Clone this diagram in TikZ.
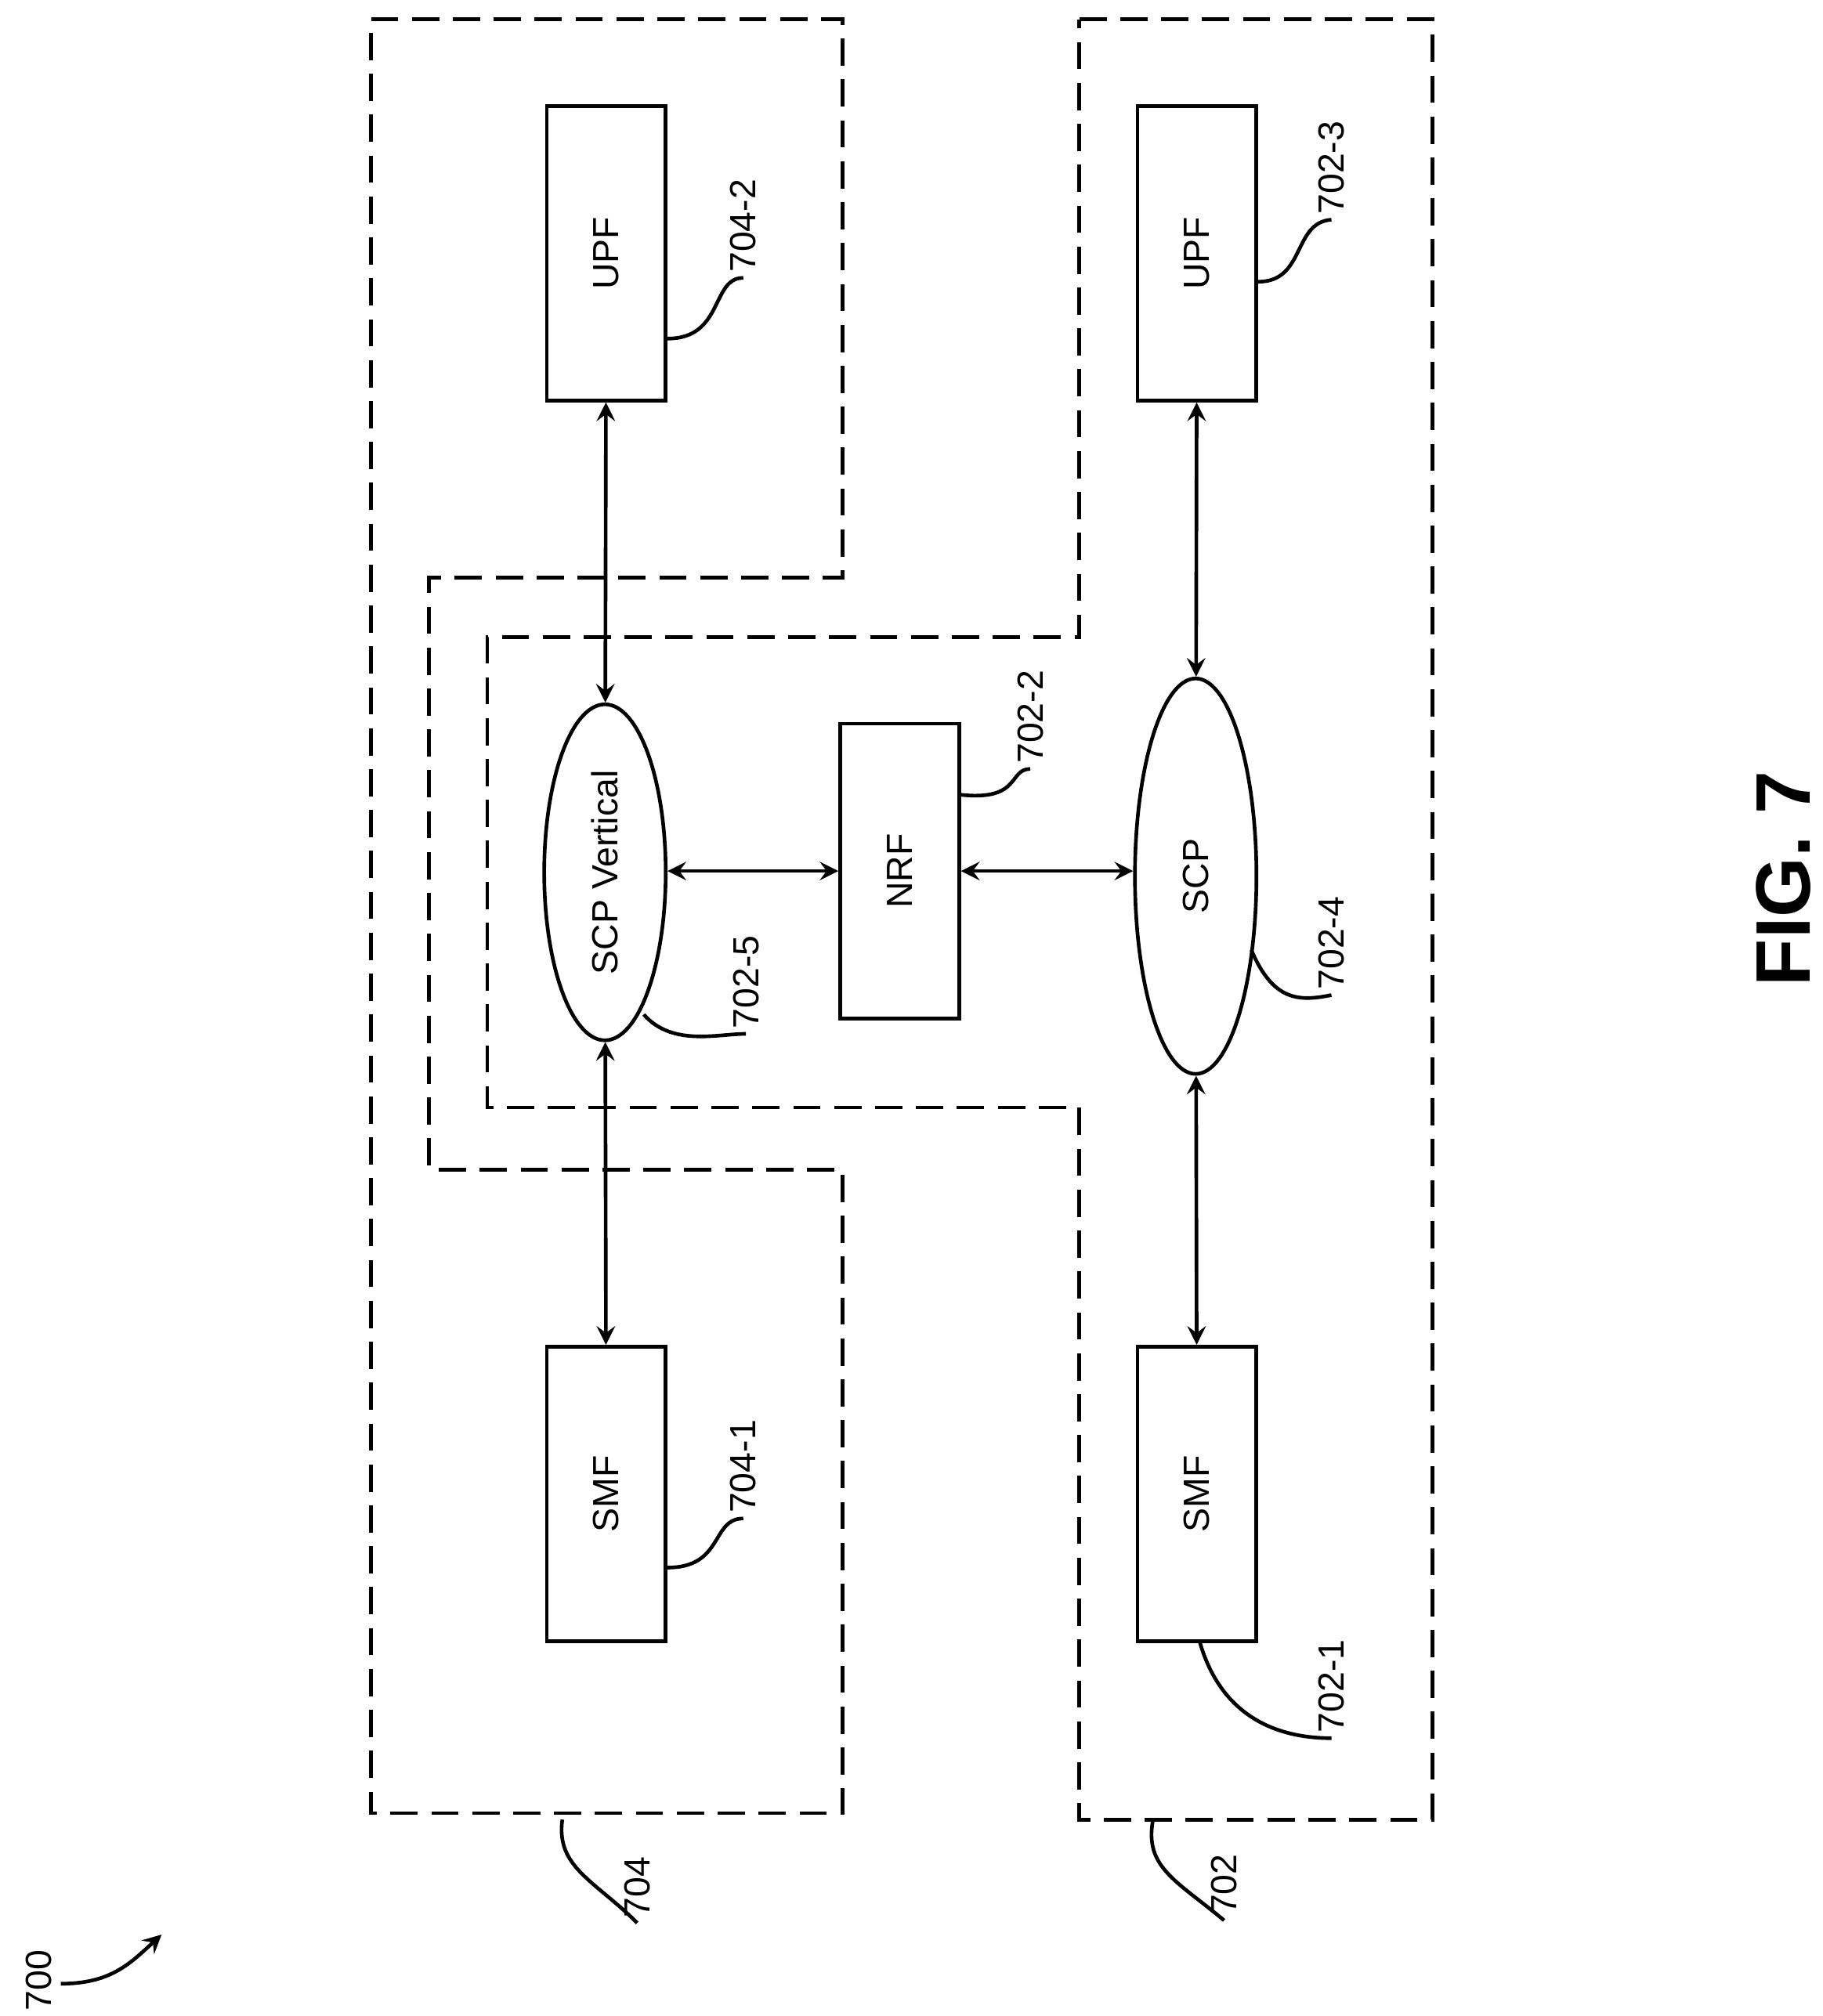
\documentclass[tikz,border=0pt]{standalone}
\usepackage{fontspec}
\setmainfont{Liberation Sans}
\usetikzlibrary{shapes.geometric}
\newlength{\unitpx}\setlength{\unitpx}{0.01cm}
\tikzset{
  fn/.style={draw,thick,minimum width=92\unitpx,minimum height=228\unitpx,inner sep=0pt,font=\fontsize{8}{10}\selectfont},
  scp/.style={draw,thick,ellipse,inner sep=0pt,font=\fontsize{8}{10}\selectfont},
  ref/.style={rotate=90,font=\fontsize{8}{10}\selectfont,inner sep=1pt},
  zone/.style={thick,dashed,dash pattern=on 6pt off 3pt},
  link/.style={thick,<->,>=stealth},
  lead/.style={thick}
}
\begin{document}
\begin{tikzpicture}[x=0.01cm,y=-0.01cm]
  \useasboundingbox (0,0) rectangle (1410,1560);
  % dashed domains
  \draw[zone] (287,15) -- (652,15) -- (652,447) -- (332,447) -- (332,905) -- (652,905) -- (652,1403) -- (287,1403) -- cycle;
  \draw[zone] (835,15) -- (1108,15) -- (1108,1408) -- (835,1408) -- (835,857) -- (377,857) -- (377,493) -- (835,493) -- cycle;
  % functions
  \node[fn] (upfa) at (469,196) {\rotatebox{90}{UPF}};
  \node[fn] (smfa) at (469,1156) {\rotatebox{90}{SMF}};
  \node[fn] (upfb) at (926,196) {\rotatebox{90}{UPF}};
  \node[fn] (smfb) at (926,1156) {\rotatebox{90}{SMF}};
  \node[fn] (nrf) at (696,674) {\rotatebox{90}{NRF}};
  \node[scp,minimum width=94\unitpx,minimum height=260\unitpx] (scpv) at (468,675) {\rotatebox{90}{SCP Vertical}};
  \node[scp,minimum width=94\unitpx,minimum height=306\unitpx] (scp) at (925,678) {\rotatebox{90}{SCP}};
  % links
  \draw[link] (upfa) -- (scpv);
  \draw[link] (scpv) -- (smfa);
  \draw[link] (upfb) -- (scp);
  \draw[link] (scp) -- (smfb);
  \draw[link] (scpv.east |- nrf) -- (nrf);
  \draw[link] (nrf) -- (scp.west |- nrf);
  % reference numerals
  \node[ref,anchor=west] (r7042) at (575,215) {704-2};
  \node[ref,anchor=west] (r7023) at (1030,170) {702-3};
  \node[ref,anchor=west] (r7022) at (797,595) {702-2};
  \node[ref,anchor=west] (r7025) at (577,800) {702-5};
  \node[ref,anchor=west] (r7024) at (1030,770) {702-4};
  \node[ref,anchor=west] (r7041) at (575,1175) {704-1};
  \node[ref,anchor=west] (r7021) at (1030,1345) {702-1};
  \node[ref,anchor=west] (r704) at (493,1488) {704};
  \node[ref,anchor=west] (r702) at (947,1486) {702};
  \node[ref,anchor=west] (r700) at (30,1560) {700};
  \node[rotate=90,font=\bfseries\fontsize{17}{20}\selectfont] (fig) at (1380,680) {FIG. 7};
  \draw[lead] (upfa.east |- 0,262) .. controls (560,262) and (550,215) .. (r7042.west);
  \draw[lead] (upfb.east |- 0,218) .. controls (1010,218) and (1000,172) .. (r7023.west);
  \draw[lead] (nrf.east |- 0,615) .. controls (790,620) and (780,595) .. (r7022.west);
  \draw[lead] (498,785) .. controls (520,810) and (555,800) .. (r7025.west);
  \draw[lead] (968,735) .. controls (985,775) and (1005,775) .. (r7024.west);
  \draw[lead] (smfa.east |- 0,1213) .. controls (560,1213) and (550,1175) .. (r7041.west);
  \draw[lead] (928,1270) .. controls (945,1330) and (990,1345) .. (r7021.west);
  \draw[lead] (435,1408) .. controls (430,1445) and (460,1455) .. (r704.west);
  \draw[lead] (892,1408) .. controls (885,1445) and (910,1455) .. (r702.west);
  \coordinate (arr) at (125,1497);
  \draw[lead,-stealth] (47,1535) .. controls (85,1535) and (100,1520) .. (arr);
\end{tikzpicture}
\end{document}
